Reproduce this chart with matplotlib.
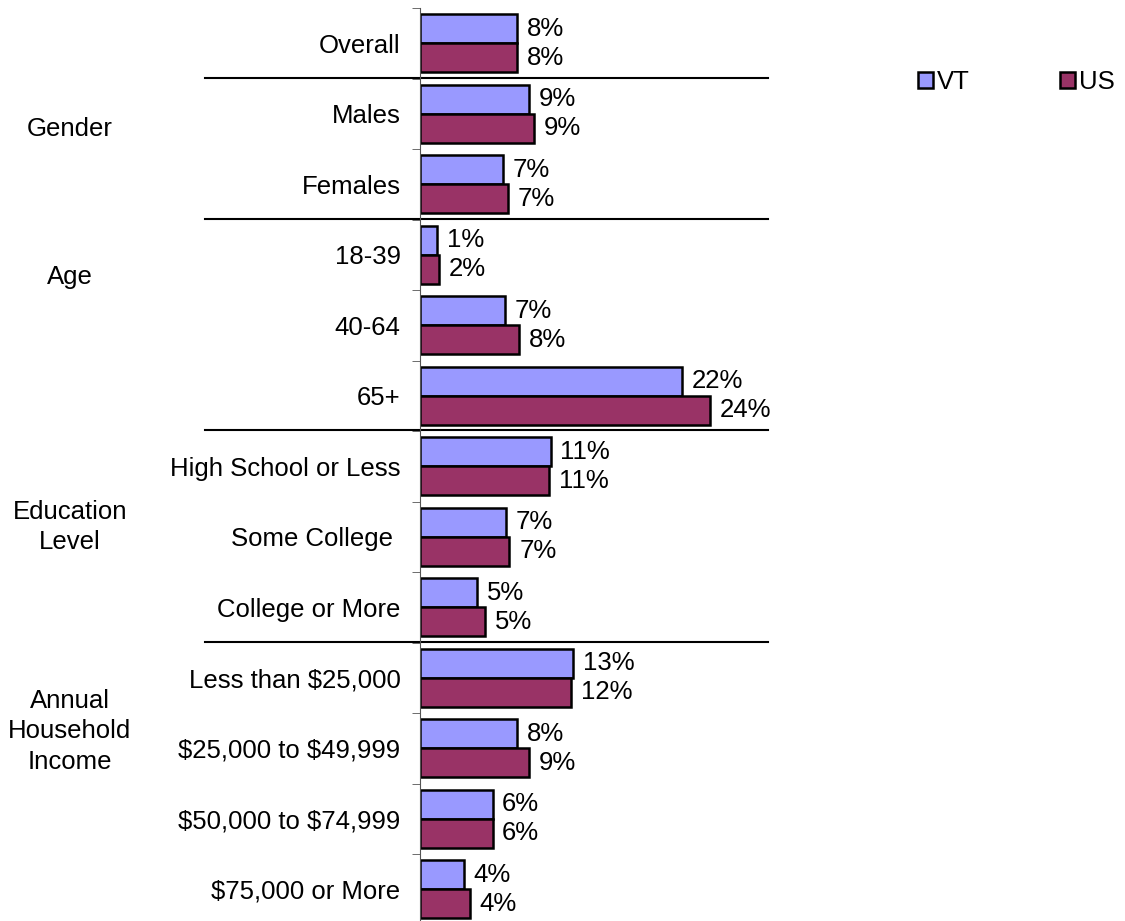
import matplotlib
matplotlib.use('Agg')
from matplotlib import pyplot as plt
from matplotlib.transforms import blended_transform_factory
import numpy as np

plt.rcParams['font.family'] = ['Liberation Sans', 'DejaVu Sans']
plt.rcParams['text.parse_math'] = False

# данные
categories = ['Overall', 'Males', 'Females', '18-39', '40-64', '65+',
              'High School or Less', 'Some College ', 'College or More',
              'Less than $25,000', '$25,000 to $49,999',
              '$50,000 to $74,999', '$75,000 or More']
vt_values = [8.0, 9.0, 6.9, 1.4, 7.0, 21.7, 10.8, 7.1, 4.7, 12.7, 8.0, 6.0, 3.6]
us_values = [8.0, 9.4, 7.3, 1.6, 8.2, 24.0, 10.7, 7.4, 5.4, 12.5, 9.0, 6.0, 4.1]
vt_labels = ['8%', '9%', '7%', '1%', '7%', '22%', '11%', '7%', '5%', '13%', '8%', '6%', '4%']
us_labels = ['8%', '9%', '7%', '2%', '8%', '24%', '11%', '7%', '5%', '12%', '9%', '6%', '4%']
groups = ['Gender', 'Age', 'Education\nLevel', 'Annual\nHousehold\nIncome']
separators_after = [0, 2, 5, 8]

# положение подписей групп (в единицах оси y)
group_label_y = [1.22, 3.32, 6.86, 9.76]

fs = 18.5

fig = plt.figure(figsize=(11.25, 9.21), dpi=100)
ax = fig.add_axes([420 / 1125, -0.0038, 348 / 1125, 0.9951])

y = np.arange(len(categories))
h = 0.41
ax.barh(y - h / 2, vt_values, height=h, color='#9999FF', edgecolor='black',
        linewidth=1.8, label='VT')
ax.barh(y + h / 2, us_values, height=h, color='#993366', edgecolor='black',
        linewidth=1.8, label='US')

for i in range(len(categories)):
    ax.annotate(vt_labels[i], (vt_values[i], y[i] - h / 2), xytext=(7, 0),
                textcoords='offset points', va='center', ha='left', fontsize=fs)
    ax.annotate(us_labels[i], (us_values[i], y[i] + h / 2), xytext=(7, 0),
                textcoords='offset points', va='center', ha='left', fontsize=fs)

ax.set_ylim(len(categories) - 0.5, -0.5)
ax.set_xlim(0, 28.8)
ax.set_yticks(y)
ax.set_yticklabels(categories, fontsize=fs)
ax.set_yticks(np.arange(len(categories) + 1) - 0.5, minor=True)
ax.tick_params(axis='y', which='major', length=0, pad=14)
ax.tick_params(axis='y', which='minor', length=6, color='#555555')
ax.set_xticks([])
for s in ['top', 'right', 'bottom']:
    ax.spines[s].set_visible(False)
ax.spines['left'].set_color('#555555')

# разделители групп
tr = blended_transform_factory(fig.transFigure, ax.transData)
for r in separators_after:
    ax.plot([205 / 1125, 768 / 1125], [r + 0.49, r + 0.49], color='black',
            linewidth=1.5, transform=tr, clip_on=False)

for name, gy in zip(groups, group_label_y):
    ax.text(70 / 1125, gy, name, transform=tr, ha='center',
            va='center', fontsize=fs, linespacing=1.35)

ax.legend(loc='center left', bbox_to_anchor=(918 / 1125, 1 - 82 / 921),
          bbox_transform=fig.transFigure, ncol=2, frameon=False, fontsize=fs,
          handlelength=0.6, handleheight=0.6, handletextpad=0.15,
          columnspacing=3.5, borderpad=0, borderaxespad=0)

fig.savefig('out.png', dpi=100)
